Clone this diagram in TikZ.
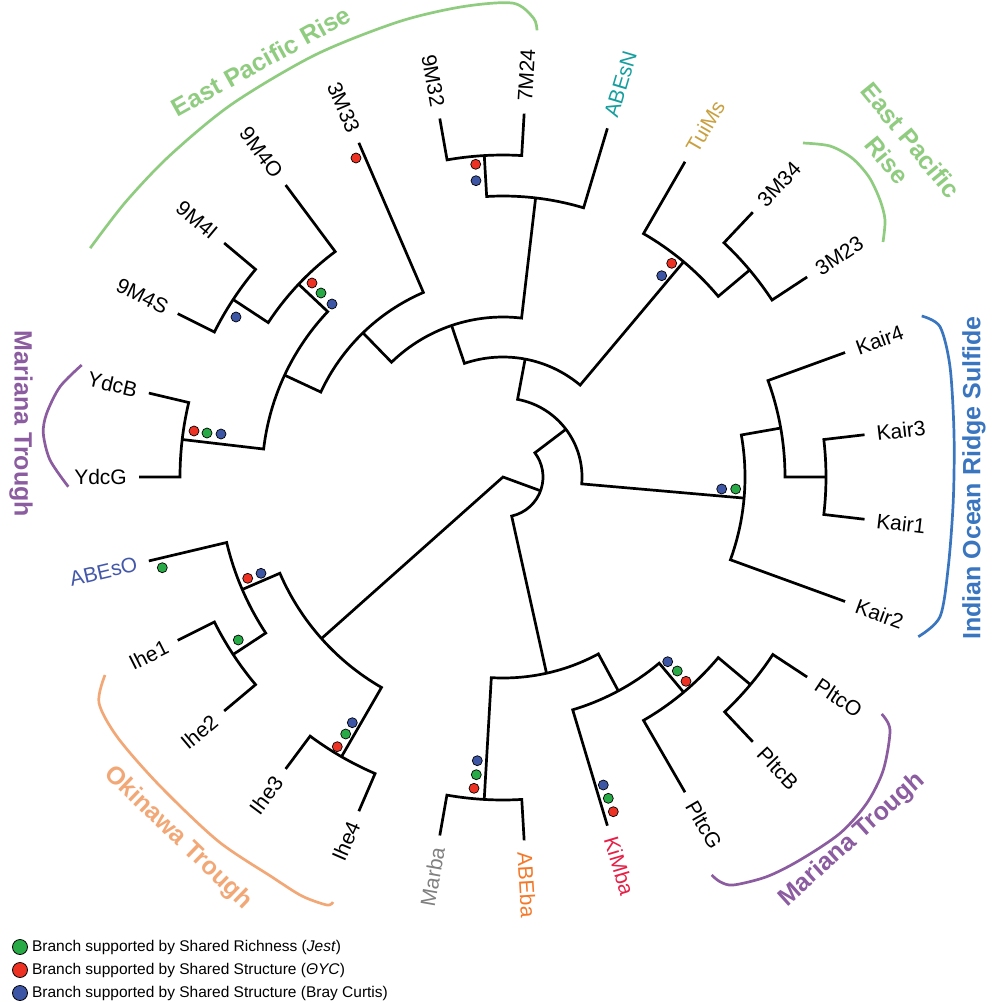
\documentclass[tikz,border=0pt]{standalone}
\usepackage{fontspec}
\setmainfont{Liberation Sans}
\usetikzlibrary{positioning}
\definecolor{eprgreen}{RGB}{143,204,128}
\definecolor{marpurple}{RGB}{139,92,160}
\definecolor{okiorange}{RGB}{242,168,118}
\definecolor{indblue}{RGB}{58,118,192}
\definecolor{abnteal}{RGB}{22,158,158}
\definecolor{tuigold}{RGB}{200,160,64}
\definecolor{abobl}{RGB}{68,88,170}
\definecolor{margray}{RGB}{128,128,128}
\definecolor{abeor}{RGB}{245,120,40}
\definecolor{kimred}{RGB}{232,30,70}
\definecolor{supred}{RGB}{237,50,36}
\definecolor{supgreen}{RGB}{40,170,70}
\definecolor{supblue}{RGB}{60,85,165}
\tikzset{
  branch/.style={line width=2.7pt},
  bracket/.style={line width=2.7pt},
  leaflabel/.style={font=\fontsize{21}{24}\selectfont, inner sep=0pt},
  grouplabel/.style={font=\fontsize{25}{31}\selectfont\bfseries, inner sep=0pt, align=center},
  supdot/.style={draw=black, line width=0.7pt},
  legdot/.style={circle, draw=black, line width=0.8pt, minimum size=15pt, inner sep=0pt},
  legtext/.style={font=\fontsize{15.5}{18}\selectfont, inner sep=0pt}
}
% leaf tips sit on r=364, labels start at r=376
\newcommand\leafR[4]{%
  \coordinate (t#2) at (#1:364);
  \node[leaflabel,text=#4,anchor=west,rotate=#1] (l#2) at (#1:376) {#3};}
\newcommand\leafL[4]{%
  \coordinate (t#2) at (#1:364);
  \node[leaflabel,text=#4,anchor=east,rotate=#1+180] (l#2) at (#1:376) {#3};}
% radius, first angle, first child, last angle, last child
\newcommand\clade[5]{%
  \draw[branch] (#3) -- (#2:#1) arc[start angle=#2,end angle=#4,radius=#1] -- (#5);}
\newcommand\supp[2]{\fill[supdot,fill=#1] (#2) circle[radius=5];}
\begin{document}
\begin{tikzpicture}[x=1pt,y=1pt]
\useasboundingbox (0,0) rectangle (992,-1002);
\begin{scope}[shift={(503,-477)}]
\leafR{-20}{Kair2}{Kair2}{black}
\leafR{-6.667}{Kair1}{Kair1}{black}
\leafR{6.667}{Kair3}{Kair3}{black}
\leafR{20}{Kair4}{Kair4}{black}
\leafR{33.333}{3M23}{3M23}{black}
\leafR{46.667}{3M34}{3M34}{black}
\leafR{60}{TuiMs}{TuiMs}{tuigold}
\leafR{73.333}{ABEsN}{ABEsN}{abnteal}
\leafR{86.667}{7M24}{7M24}{black}
\leafL{100}{9M32}{9M32}{black}
\leafL{113.333}{3M33}{3M33}{black}
\leafL{126.667}{9M4O}{9M4O}{black}
\leafL{140}{9M4I}{9M4I}{black}
\leafL{153.333}{9M4S}{9M4S}{black}
\leafL{166.667}{YdcB}{YdcB}{black}
\leafL{180}{YdcG}{YdcG}{black}
\leafL{193.333}{ABEsO}{ABEsO}{abobl}
\leafL{206.667}{Ihe1}{Ihe1}{black}
\leafL{220}{Ihe2}{Ihe2}{black}
\leafL{233.333}{Ihe3}{Ihe3}{black}
\leafL{246.667}{Ihe4}{Ihe4}{black}
\leafL{260}{Marba}{Marba}{margray}
\leafR{273.333}{ABEba}{ABEba}{abeor}
\leafR{286.667}{KiMba}{KiMba}{kimred}
\leafR{300}{PltcG}{PltcG}{black}
\leafR{313.333}{PltcB}{PltcB}{black}
\leafR{326.667}{PltcO}{PltcO}{black}

\coordinate (root) at (0,0);
\coordinate (nK13) at (0:323);
\coordinate (nK134) at (10:282);
\coordinate (nK) at (-5:242);
\coordinate (nM34) at (40:322);
\coordinate (nTui) at (50:281);
\coordinate (nM32) at (93.333:322);
\coordinate (nABN) at (83.333:281);
\coordinate (nM4SI) at (146.667:323);
\coordinate (nM4) at (136.667:281);
\coordinate (nYdc) at (173.333:323);
\coordinate (nA241) at (155:241);
\coordinate (nA201) at (134.167:201);
\coordinate (nA160) at (108.75:160);
\coordinate (nA120) at (79.375:120);
\coordinate (nA79) at (37.19:79);
\coordinate (nPOB) at (320:323);
\coordinate (nPltc) at (310:281);
\coordinate (nKiM) at (298.333:243);
\coordinate (nMar) at (266.667:323);
\coordinate (nB201) at (282.5:201);
\coordinate (nB40) at (339.85:40);
\coordinate (nI12) at (213.333:323);
\coordinate (nI34) at (240:323);
\coordinate (nAI) at (203.333:284);
\coordinate (nOki) at (221.667:243);

\clade{323}{-6.667}{tKair1}{6.667}{tKair3}
\clade{282}{0}{nK13}{20}{tKair4}
\clade{242}{-20}{tKair2}{10}{nK134}
\clade{322}{33.333}{t3M23}{46.667}{t3M34}
\clade{281}{40}{nM34}{60}{tTuiMs}
\clade{322}{86.667}{t7M24}{100}{t9M32}
\clade{281}{73.333}{tABEsN}{93.333}{nM32}
\clade{323}{140}{t9M4I}{153.333}{t9M4S}
\clade{281}{126.667}{t9M4O}{146.667}{nM4SI}
\clade{323}{166.667}{tYdcB}{180}{tYdcG}
\clade{241}{136.667}{nM4}{173.333}{nYdc}
\clade{201}{113.333}{t3M33}{155}{nA241}
\clade{160}{83.333}{nABN}{134.167}{nA201}
\clade{120}{50}{nTui}{108.75}{nA160}
\clade{79}{-5}{nK}{79.375}{nA120}
\clade{323}{313.333}{tPltcB}{326.667}{tPltcO}
\clade{281}{300}{tPltcG}{320}{nPOB}
\clade{243}{286.667}{tKiMba}{310}{nPltc}
\clade{323}{260}{tMarba}{273.333}{tABEba}
\clade{201}{266.667}{nMar}{298.333}{nKiM}
\clade{40}{282.5}{nB201}{397.19}{nA79}
\clade{323}{206.667}{tIhe1}{220}{tIhe2}
\clade{323}{233.333}{tIhe3}{246.667}{tIhe4}
\clade{284}{193.333}{tABEsO}{213.333}{nI12}
\clade{243}{203.333}{nAI}{240}{nI34}
\draw[branch] (nOki) -- (root) -- (nB40);

\draw[bracket,eprgreen] plot[smooth] coordinates {(151:472) (144:467) (136:463) (126:461) (114:462) (103:467) (95:472) (88.8:474) (86.2:460) (85.65:448)};
\end{scope}

% group brackets
\draw[bracket,eprgreen] plot[smooth] coordinates {(803,-143) (830,-146) (852,-158) (869,-177) (880,-200) (885,-220) (883,-242)};
\draw[bracket,marpurple] plot[smooth] coordinates {(81.7,-365) (60,-386.7) (46.7,-413.3) (43.3,-433.3) (50,-460) (68.3,-486.7)};
\draw[bracket,indblue] plot[smooth] coordinates {(921.7,-316) (940,-326.7) (950,-366.7) (954,-433.3) (953.3,-500) (948.3,-566.7) (940,-616.7) (918.3,-636.7)};
\draw[bracket,okiorange] plot[smooth] coordinates {(105,-675) (99,-703) (118,-738) (160,-786) (218,-841) (272,-877) (302,-896) (327,-905) (333,-902)};
\draw[bracket,marpurple] plot[smooth] coordinates {(711.7,-875) (720,-881.7) (733.3,-885) (766.7,-876.7) (800,-860) (840,-833.3) (866.7,-803.3) (883.3,-770) (890,-730) (881.7,-714)};

\node[grouplabel,text=eprgreen,rotate=29] (gEPRa) at (261,-61) {East Pacific Rise};
\node[grouplabel,text=eprgreen,rotate=-50.5] (gEPRb) at (899,-150) {East Pacific\\Rise};
\node[grouplabel,text=marpurple,rotate=-90] (gMARa) at (21,-424) {Mariana Trough};
\node[grouplabel,text=indblue,rotate=90] (gIND) at (974,-478) {Indian Ocean Ridge Sulfide};
\node[grouplabel,text=okiorange,rotate=-44] (gOKI) at (178,-838) {Okinawa Trough};
\node[grouplabel,text=marpurple,rotate=42] (gMARb) at (852,-840) {Mariana Trough};

% support dots
\supp{supred}{356,-158}
\supp{supblue}{236,-317}
\supp{supred}{312,-283} \supp{supgreen}{321,-293} \supp{supblue}{332,-304}
\supp{supred}{194,-431} \supp{supgreen}{207,-433} \supp{supblue}{221,-434}
\supp{supred}{475.7,-164.3} \supp{supblue}{476,-180.7}
\supp{supred}{671.7,-263.3} \supp{supblue}{661.7,-275.7}
\supp{supblue}{721.7,-489} \supp{supgreen}{735.7,-489}
\supp{supgreen}{162.3,-567.7}
\supp{supred}{247.7,-578.3} \supp{supblue}{261,-573.3}
\supp{supgreen}{238.3,-640}
\supp{supred}{337.3,-746.7} \supp{supgreen}{345.7,-734} \supp{supblue}{352.3,-722.7}
\supp{supblue}{477.3,-760.7} \supp{supgreen}{476.3,-774.7} \supp{supred}{474,-788.3}
\supp{supblue}{603.3,-785} \supp{supgreen}{608.3,-798.3} \supp{supred}{613.3,-811.7}
\supp{supblue}{667.7,-661.7} \supp{supgreen}{677.3,-671} \supp{supred}{686,-681.3}

% key
\node[legdot,fill=supgreen] (kG) at (20,-947) {};
\node[legdot,fill=supred] (kR) at (20,-970) {};
\node[legdot,fill=supblue] (kB) at (20,-993) {};
\node[legtext,right=4pt of kG] (tG) {Branch supported by Shared Richness (\textit{Jest})};
\node[legtext,right=4pt of kR] (tR) {Branch supported by Shared Structure (\textit{ΘYC})};
\node[legtext,right=4pt of kB] (tB) {Branch supported by Shared Structure (Bray Curtis)};
\end{tikzpicture}
\end{document}
